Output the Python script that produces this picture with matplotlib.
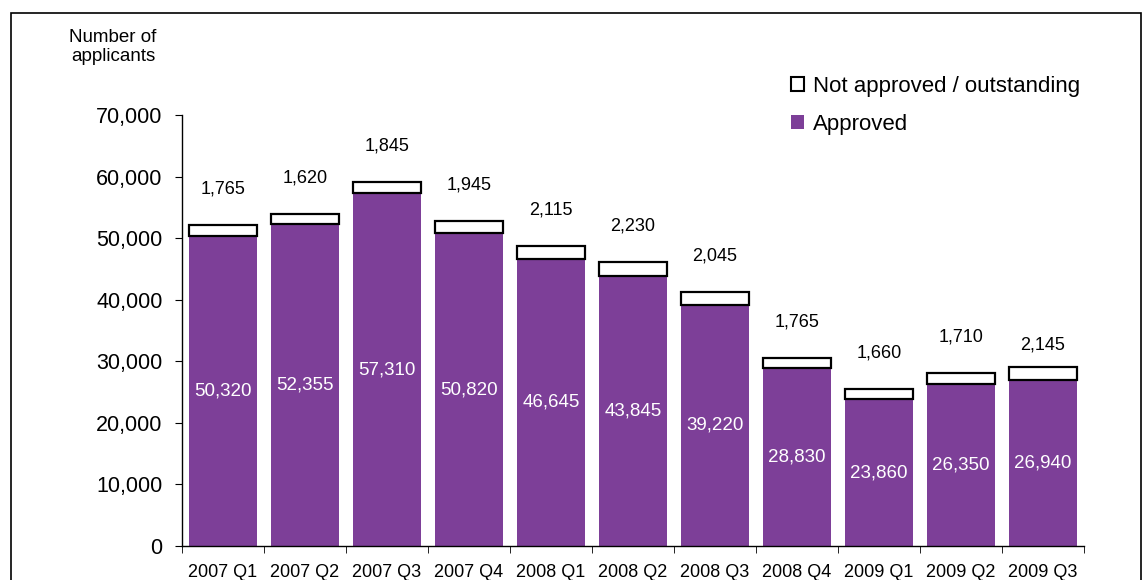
import numpy as np
from matplotlib import pyplot as plt
from matplotlib.patches import Patch, Rectangle

plt.rcParams['font.family'] = ['Liberation Sans', 'DejaVu Sans']

quarters = ['2007 Q1', '2007 Q2', '2007 Q3', '2007 Q4', '2008 Q1', '2008 Q2',
            '2008 Q3', '2008 Q4', '2009 Q1', '2009 Q2', '2009 Q3']
approved = [50320, 52355, 57310, 50820, 46645, 43845, 39220, 28830, 23860, 26350, 26940]
not_approved = [1765, 1620, 1845, 1945, 2115, 2230, 2045, 1765, 1660, 1710, 2145]

purple = '#7d3f98'

fig = plt.figure(figsize=(11.44, 5.8), dpi=100)
# outer frame
fig.patches.append(Rectangle((11 / 1144, -0.05), 1130 / 1144, 1.05 - 13 / 580,
                             transform=fig.transFigure, fill=False,
                             edgecolor='black', linewidth=1.2))

ax = fig.add_axes([182 / 1144, 34 / 580, 902 / 1144, 431 / 580])
x = np.arange(len(quarters))
w = 0.84
ax.bar(x, approved, w, color=purple, edgecolor='none')
ax.bar(x, not_approved, w, bottom=approved, color='white', edgecolor='black', linewidth=1.6)

for i in range(len(quarters)):
    ax.text(x[i], approved[i] / 2, f'{approved[i]:,}', ha='center', va='center',
            color='white', fontsize=13.5)
    off = 22 if i == len(quarters) - 1 else 36
    ax.annotate(f'{not_approved[i]:,}', (x[i], approved[i] + not_approved[i]),
                xytext=(0, off), textcoords='offset pixels', ha='center', va='center',
                fontsize=13)

ax.set_xlim(-0.5, len(quarters) - 0.5)
ax.set_ylim(0, 70000)
ax.set_yticks(range(0, 70001, 10000))
ax.set_yticklabels([f'{v:,}' for v in range(0, 70001, 10000)], fontsize=15.5)
ax.set_xticks(x)
ax.set_xticklabels(quarters, fontsize=13)
ax.set_xticks(np.arange(-0.5, len(quarters)), minor=True)
ax.tick_params(axis='x', which='major', length=0, pad=13)
ax.tick_params(axis='x', which='minor', length=5, direction='out')
ax.tick_params(axis='y', length=5, direction='out', pad=9)
for s in ['top', 'right']:
    ax.spines[s].set_visible(False)
ax.spines['left'].set_linewidth(1)
ax.spines['bottom'].set_linewidth(1)

fig.text(113 / 1144, 1 - 47 / 580, 'Number of\napplicants', ha='center', va='center',
         fontsize=13.5, linespacing=1.2)

handles = [Patch(facecolor='white', edgecolor='black', linewidth=1.5, label='Not approved / outstanding'),
           Patch(facecolor=purple, edgecolor='none', label='Approved')]
fig.legend(handles=handles, loc='upper left', bbox_to_anchor=(780 / 1144, 1 - 65 / 580),
           frameon=False, fontsize=16, handlelength=0.6, handleheight=0.6,
           handletextpad=0.4, labelspacing=0.75, borderpad=0)

fig.savefig('out.png', dpi=100)
